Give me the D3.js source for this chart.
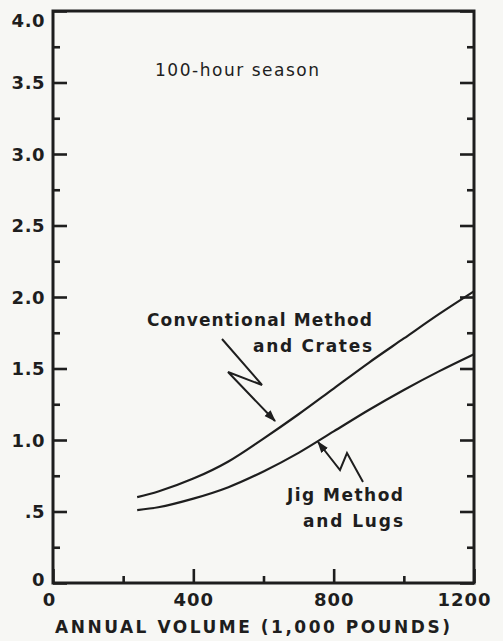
<!DOCTYPE html>
<html>
<head>
<meta charset="utf-8">
<script src="https://cdn.jsdelivr.net/npm/d3@7"></script>
<style>
  html, body { margin: 0; padding: 0; background: #f7f7f4; }
  svg { display: block; }
  text { fill: #1e1e1e; font-family: "DejaVu Sans", sans-serif; }
</style>
</head>
<body>
<div id="chart"></div>
<script>
// data
const volumes = [240, 300, 400, 500, 600, 700, 800, 900, 1000, 1100, 1200];
const conventional = [0.60, 0.64, 0.73, 0.85, 1.01, 1.18, 1.36, 1.54, 1.71, 1.88, 2.04];
const jig = [0.51, 0.53, 0.59, 0.67, 0.78, 0.91, 1.06, 1.21, 1.35, 1.48, 1.60];

const yMajor = [0, 0.5, 1, 1.5, 2, 2.5, 3, 3.5, 4];
const yMajorLabels = ["0", ".5", "1.0", "1.5", "2.0", "2.5", "3.0", "3.5", "4.0"];
const yMinor = [0.25, 0.75, 1.25, 1.75, 2.25, 2.75, 3.25, 3.75];
const xMajor = [0, 400, 800, 1200];
const xMajorLabels = ["0", "400", "800", "1200"];
const xMinor = [200, 600, 1000];

const width = 503, height = 641;
const margin = { top: 11, right: 29, bottom: 58, left: 53 };

const svg = d3.select("#chart").append("svg")
  .attr("width", width)
  .attr("height", height);

const x = d3.scaleLinear()
  .domain([0, 1200])
  .range([margin.left, width - margin.right]);

const y = d3.scaleLinear()
  .domain([0, 4])
  .range([height - margin.bottom, margin.top]);

// ticks (all pointing inward)
function ticks(axis, pos, len) {
  const g = svg.append("g").attr("transform", pos).call(axis.tickSize(-len));
  g.select(".domain").remove();
  g.selectAll(".tick line").attr("stroke", "#1e1e1e").attr("stroke-width", 2.6);
  return g;
}

const yLeft = ticks(d3.axisLeft(y).tickValues(yMajor)
    .tickFormat((d, i) => yMajorLabels[i]).tickPadding(8),
  `translate(${margin.left},0)`, 14);
yLeft.selectAll(".tick text")
  .style("font-size", "18px").style("font-weight", "bold")
  .style("letter-spacing", "0.5px")
  .attr("dy", d => d === 4 ? "0.85em" : (d === 0 ? "0.15em" : "0.35em"));

ticks(d3.axisLeft(y).tickValues(yMinor).tickFormat(""), `translate(${margin.left},0)`, 7);
ticks(d3.axisRight(y).tickValues(yMajor).tickFormat(""), `translate(${width - margin.right},0)`, 14);
ticks(d3.axisRight(y).tickValues(yMinor).tickFormat(""), `translate(${width - margin.right},0)`, 7);

const xBottom = ticks(d3.axisBottom(x).tickValues(xMajor)
    .tickFormat((d, i) => xMajorLabels[i]).tickPadding(10),
  `translate(0,${height - margin.bottom})`, 14);
xBottom.selectAll(".tick text")
  .style("font-size", "18px").style("font-weight", "bold")
  .style("letter-spacing", "1px")
  .attr("text-anchor", d => d === 1200 ? "end" : "middle")
  .attr("dx", d => d === 1200 ? "17px" : (d === 0 ? "-4px" : "0"));
ticks(d3.axisBottom(x).tickValues(xMinor).tickFormat(""), `translate(0,${height - margin.bottom})`, 7);

// frame
svg.append("rect")
  .attr("x", x(0)).attr("y", y(4))
  .attr("width", x(1200) - x(0)).attr("height", y(0) - y(4))
  .attr("fill", "none").attr("stroke", "#1e1e1e").attr("stroke-width", 3);

// curves
const line = d3.line()
  .x((d, i) => x(volumes[i]))
  .y(d => y(d))
  .curve(d3.curveMonotoneX);

[conventional, jig].forEach(s => {
  svg.append("path")
    .attr("d", line(s))
    .attr("fill", "none")
    .attr("stroke", "#1e1e1e")
    .attr("stroke-width", 2.2);
});

// axis title
svg.append("text")
  .attr("x", 55).attr("y", 633)
  .attr("textLength", 395)
  .style("font-size", "17px").style("font-weight", "bold")
  .text("ANNUAL VOLUME (1,000 POUNDS)");

// notes
svg.append("text")
  .attr("x", 155).attr("y", 76)
  .attr("textLength", 164)
  .style("font-size", "17px")
  .text("100-hour season");

function label(lines, xr, y0, widths) {
  lines.forEach((t, i) => {
    svg.append("text")
      .attr("x", xr).attr("y", y0 + i * 26)
      .attr("text-anchor", "end")
      .attr("textLength", widths[i])
      .style("font-size", "17px").style("font-weight", "bold")
      .text(t);
  });
}
label(["Conventional Method", "and Crates"], 372, 326, [225, 119]);
label(["Jig Method", "and Lugs"], 403, 501, [116, 100]);

// zig-zag arrows
svg.append("defs").append("marker")
  .attr("id", "head")
  .attr("viewBox", "0 0 10 10")
  .attr("refX", 9).attr("refY", 5)
  .attr("markerWidth", 6).attr("markerHeight", 6)
  .attr("markerUnits", "strokeWidth")
  .attr("orient", "auto")
  .append("path").attr("d", "M0,1.5L10,5L0,8.5z").attr("fill", "#1e1e1e");

function arrow(pts) {
  svg.append("path")
    .attr("d", d3.line()(pts))
    .attr("fill", "none")
    .attr("stroke", "#1e1e1e")
    .attr("stroke-width", 2)
    .attr("marker-end", "url(#head)");
}
arrow([[222, 339], [262, 385], [228, 372], [275, 421]]);
arrow([[363, 482], [347, 453], [340, 470], [318, 442]]);
</script>
</body>
</html>
